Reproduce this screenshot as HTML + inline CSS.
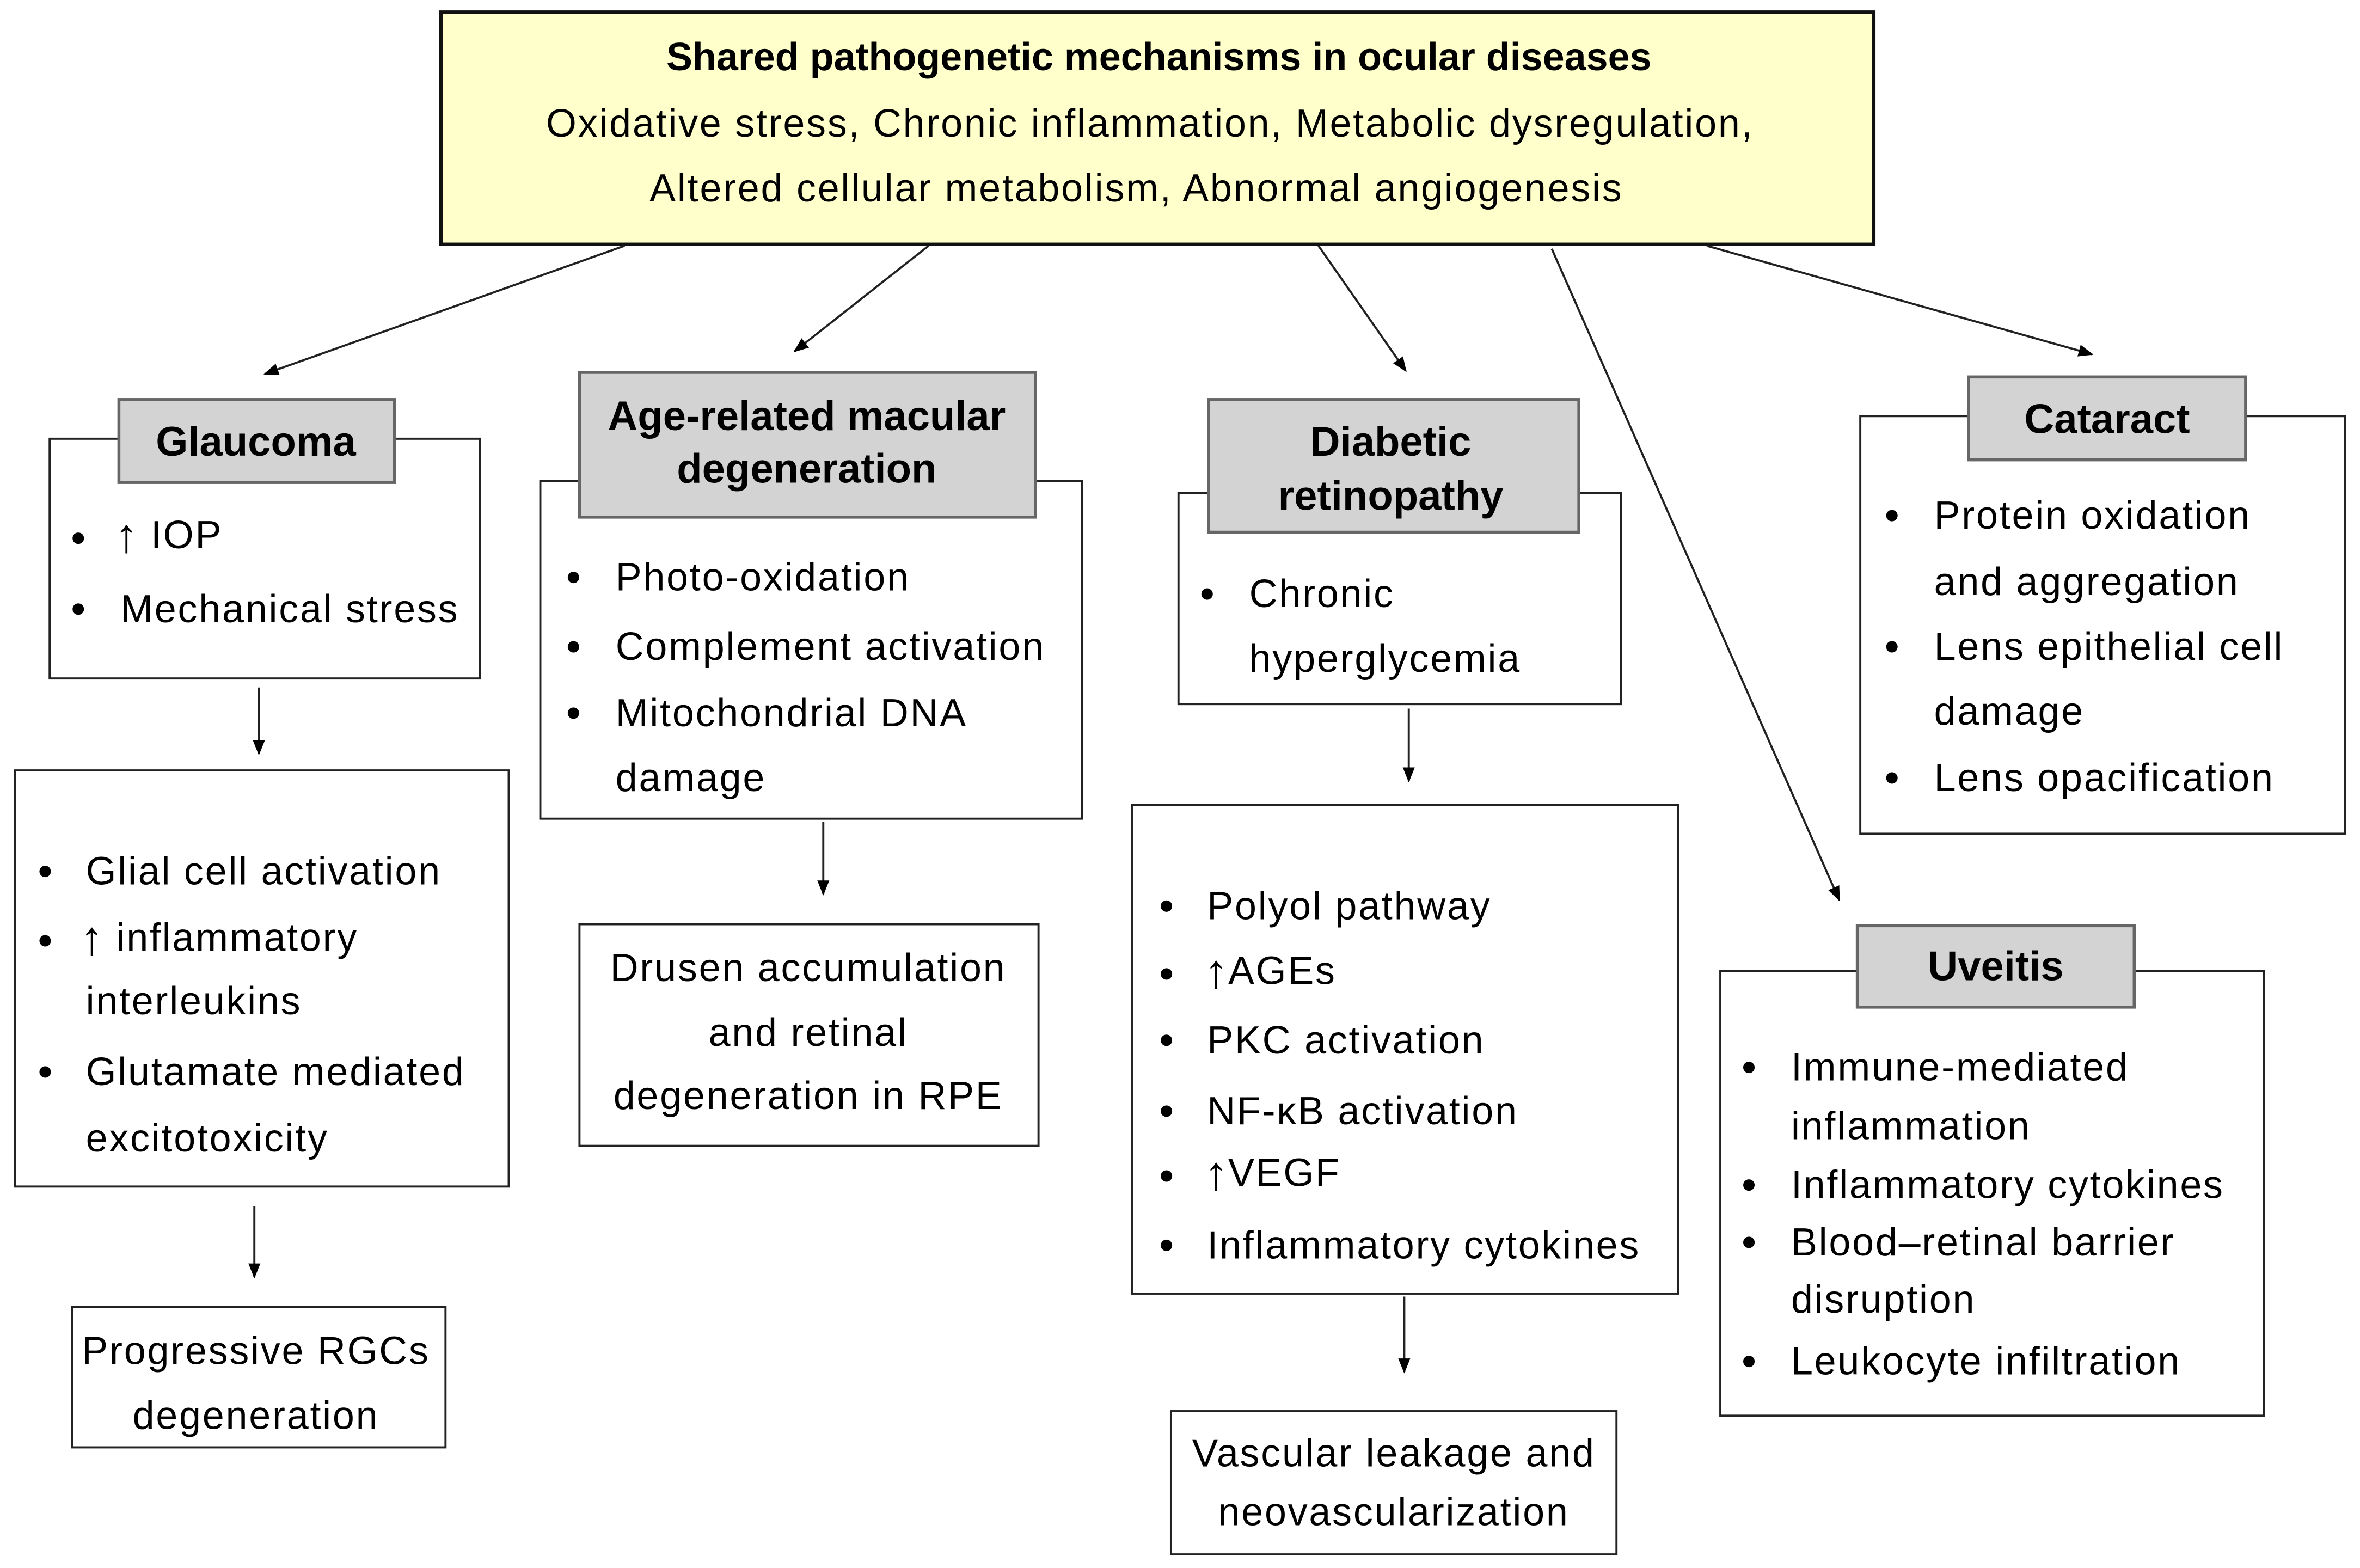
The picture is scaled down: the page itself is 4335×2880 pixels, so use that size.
<!DOCTYPE html>
<html><head><meta charset="utf-8"><style>
html,body{margin:0;padding:0;background:#fff;}
svg{display:block;}
text{font-family:"Liberation Sans",sans-serif;font-size:26px;letter-spacing:1px;fill:#000;dominant-baseline:central;}
.b{font-weight:bold;font-size:26px;letter-spacing:0;}
.h{font-size:27.5px;}
.c{text-anchor:middle;}
.up{font-size:32px;letter-spacing:0;}
.box{fill:#fff;stroke:#222;stroke-width:1.4;}
.hd{fill:#d3d3d3;stroke:#666;stroke-width:2;}
.ln{stroke:#222;stroke-width:1.4;fill:none;marker-end:url(#ah);}
</style></head><body>
<svg width="4335" height="2880" viewBox="0 0 1568 1040" preserveAspectRatio="none" xmlns="http://www.w3.org/2000/svg">
<defs><marker id="ah" markerWidth="10" markerHeight="10" refX="9" refY="5" orient="auto" markerUnits="userSpaceOnUse"><path d="M0,1 L10,5 L0,9 Z" fill="#000"/></marker></defs>
<rect x="0" y="0" width="1568" height="1040" fill="#fff"/>
<rect x="293" y="8" width="952" height="154" fill="#ffffcc" stroke="#111" stroke-width="2.2"/>
<text class="b c" x="770" y="38">Shared pathogenetic mechanisms in ocular diseases</text>
<text class="c" x="764" y="82">Oxidative stress, Chronic inflammation, Metabolic dysregulation,</text>
<text class="c" x="755" y="125">Altered cellular metabolism, Abnormal angiogenesis</text>
<line class="ln" x1="415" y1="163" x2="176" y2="248"/>
<line class="ln" x1="617" y1="163" x2="528" y2="233"/>
<line class="ln" x1="876" y1="163" x2="934" y2="246"/>
<line class="ln" x1="1031" y1="165" x2="1222" y2="597"/>
<line class="ln" x1="1134" y1="163" x2="1390" y2="235"/>
<!-- Glaucoma -->
<rect class="box" x="33" y="291" width="286" height="159"/>
<rect class="hd" x="79" y="265" width="183" height="55"/>
<text class="b h c" x="170" y="293">Glaucoma</text>
<circle cx="52" cy="357" r="3.8"/><text x="76" y="355"><tspan class="up">↑</tspan> IOP</text>
<circle cx="52" cy="404" r="3.8"/><text x="80" y="404">Mechanical stress</text>
<line class="ln" x1="172" y1="456" x2="172" y2="500"/>
<rect class="box" x="10" y="511" width="328" height="276"/>
<circle cx="30" cy="578" r="3.8"/><text x="57" y="578">Glial cell activation</text>
<circle cx="30" cy="624" r="3.8"/><text x="53" y="622"><tspan class="up">↑</tspan> inflammatory</text>
<text x="57" y="664">interleukins</text>
<circle cx="30" cy="711" r="3.8"/><text x="57" y="711">Glutamate mediated</text>
<text x="57" y="755">excitotoxicity</text>
<line class="ln" x1="169" y1="800" x2="169" y2="847"/>
<rect class="box" x="48" y="867" width="248" height="93"/>
<text class="c" x="170" y="896">Progressive RGCs</text>
<text class="c" x="170" y="939">degeneration</text>
<!-- AMD -->
<rect class="box" x="359" y="319" width="360" height="224"/>
<rect class="hd" x="385" y="247" width="303" height="96"/>
<text class="b h c" x="536" y="276">Age-related macular</text>
<text class="b h c" x="536" y="311">degeneration</text>
<circle cx="381" cy="383" r="3.8"/><text x="409" y="383">Photo-oxidation</text>
<circle cx="381" cy="429" r="3.8"/><text x="409" y="429">Complement activation</text>
<circle cx="381" cy="473" r="3.8"/><text x="409" y="473">Mitochondrial DNA</text>
<text x="409" y="516">damage</text>
<line class="ln" x1="547" y1="545" x2="547" y2="593"/>
<rect class="box" x="385" y="613" width="305" height="147"/>
<text class="c" x="537" y="642">Drusen accumulation</text>
<text class="c" x="537" y="685">and retinal</text>
<text class="c" x="537" y="727">degeneration in RPE</text>
<!-- DR -->
<rect class="box" x="783" y="327" width="294" height="140"/>
<rect class="hd" x="803" y="265" width="246" height="88"/>
<text class="b h c" x="924" y="293">Diabetic</text>
<text class="b h c" x="924" y="329">retinopathy</text>
<circle cx="802" cy="394" r="3.8"/><text x="830" y="394">Chronic</text>
<text x="830" y="437">hyperglycemia</text>
<line class="ln" x1="936" y1="470" x2="936" y2="518"/>
<rect class="box" x="752" y="534" width="363" height="324"/>
<circle cx="775" cy="601" r="3.8"/><text x="802" y="601">Polyol pathway</text>
<circle cx="775" cy="646" r="3.8"/><text x="800" y="644"><tspan class="up">↑</tspan>AGEs</text>
<circle cx="775" cy="690" r="3.8"/><text x="802" y="690">PKC activation</text>
<circle cx="775" cy="737" r="3.8"/><text x="802" y="737">NF-κB activation</text>
<circle cx="775" cy="780" r="3.8"/><text x="800" y="778"><tspan class="up">↑</tspan>VEGF</text>
<circle cx="775" cy="826" r="3.8"/><text x="802" y="826">Inflammatory cytokines</text>
<line class="ln" x1="933" y1="860" x2="933" y2="910"/>
<rect class="box" x="778" y="936" width="296" height="95"/>
<text class="c" x="926" y="964">Vascular leakage and</text>
<text class="c" x="926" y="1003">neovascularization</text>
<!-- Cataract -->
<rect class="box" x="1236" y="276" width="322" height="277"/>
<rect class="hd" x="1308" y="250" width="184" height="55"/>
<text class="b h c" x="1400" y="278">Cataract</text>
<circle cx="1257" cy="342" r="3.8"/><text x="1285" y="342">Protein oxidation</text>
<text x="1285" y="386">and aggregation</text>
<circle cx="1257" cy="429" r="3.8"/><text x="1285" y="429">Lens epithelial cell</text>
<text x="1285" y="472">damage</text>
<circle cx="1257" cy="516" r="3.8"/><text x="1285" y="516">Lens opacification</text>
<!-- Uveitis -->
<rect class="box" x="1143" y="644" width="361" height="295"/>
<rect class="hd" x="1234" y="614" width="184" height="54"/>
<text class="b h c" x="1326" y="641">Uveitis</text>
<circle cx="1162" cy="708" r="3.8"/><text x="1190" y="708">Immune-mediated</text>
<text x="1190" y="747">inflammation</text>
<circle cx="1162" cy="786" r="3.8"/><text x="1190" y="786">Inflammatory cytokines</text>
<circle cx="1162" cy="824" r="3.8"/><text x="1190" y="824">Blood–retinal barrier</text>
<text x="1190" y="862">disruption</text>
<circle cx="1162" cy="903" r="3.8"/><text x="1190" y="903">Leukocyte infiltration</text>
</svg>
</body></html>
